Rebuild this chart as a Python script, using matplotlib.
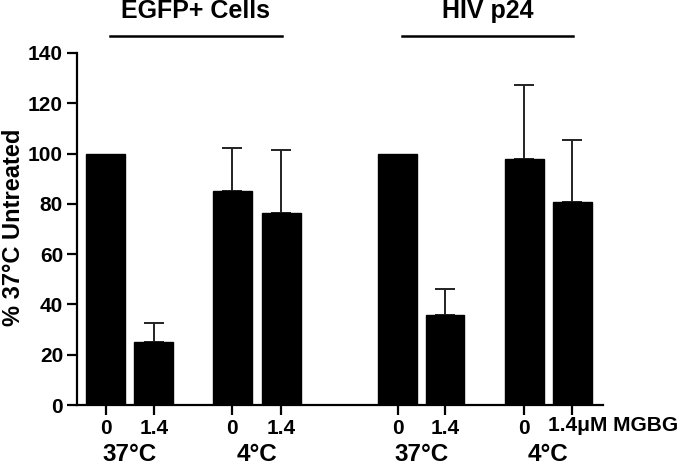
import matplotlib
matplotlib.use("Agg")
import matplotlib.pyplot as plt
import numpy as np

plt.rcParams['font.family'] = ['Liberation Sans', 'DejaVu Sans']
plt.rcParams['font.weight'] = 'bold'

# ---- data ----
conc_labels = ["0", "1.4", "0", "1.4", "0", "1.4", "0", "1.4"]
temp_labels = ["37°C", "4°C", "37°C", "4°C"]
panel_titles = ["EGFP+ Cells", "HIV p24"]
values = [100, 25.2, 85.2, 76.5, 100, 35.8, 98.0, 80.6]
errors = [0, 7.3, 16.9, 24.8, 0, 10.5, 29.3, 24.7]
unit_label = "μM MGBG"

# ---- layout ----
positions = np.array([0, 1, 2.63, 3.65, 6.08, 7.06, 8.71, 9.71])

fig = plt.figure(figsize=(6.8, 4.66), dpi=100)
ax = fig.add_axes([0.1132, 0.1309, 0.8868 - 0.1132, 0.8863 - 0.1309])

ax.bar(positions, values, width=0.81, color='black', edgecolor='black', zorder=2)
vals = np.array(values)
errs = np.array(errors)
m = errs > 0
ax.errorbar(positions[m], vals[m], yerr=[np.zeros(m.sum()), errs[m]], fmt='none',
            ecolor='#222222', elinewidth=1.4, capsize=7.5, capthick=1.4, zorder=1)

ax.set_xlim(-0.6, 10.35)
ax.set_ylim(0, 140)
ax.set_yticks(np.arange(0, 141, 20))
ax.set_xticks(positions)
ax.set_xticklabels(conc_labels[:-1] + [""])
for s in ['top', 'right']:
    ax.spines[s].set_visible(False)
for s in ['left', 'bottom']:
    ax.spines[s].set_linewidth(1.6)
ax.tick_params(axis='both', width=1.6, length=7, labelsize=15, pad=3)
for lab in ax.get_xticklabels() + ax.get_yticklabels():
    lab.set_fontweight('bold')

ax.set_ylabel("% 37°C Untreated", fontsize=17, fontweight='bold', va='center')
ax.yaxis.set_label_coords(-0.1203, 0.504)

# last tick label with unit
ax.annotate("1.4" + unit_label, xy=(positions[7], 0), xycoords=('data', 'axes fraction'),
            xytext=(-24, -11), textcoords='offset pixels', ha='left', va='top',
            fontsize=15, fontweight='bold')

# temperature labels
for i, t in enumerate(temp_labels):
    xc = (positions[2 * i] + positions[2 * i + 1]) / 2
    ax.text(xc, -0.142, t, transform=ax.get_xaxis_transform(), ha='center', va='center',
            fontsize=17.5, fontweight='bold')

# panel titles with lines
for k, title in enumerate(panel_titles):
    x0 = positions[4 * k] + 0.08
    x1 = positions[4 * k + 3] + 0.02
    ax.plot([x0, x1], [1.048, 1.048], transform=ax.get_xaxis_transform(), color='black',
            lw=1.8, clip_on=False)
    ax.text((x0 + x1) / 2, 1.118, title, transform=ax.get_xaxis_transform(), ha='center',
            va='center', fontsize=18, fontweight='bold')

fig.savefig("out.png", dpi=100)
